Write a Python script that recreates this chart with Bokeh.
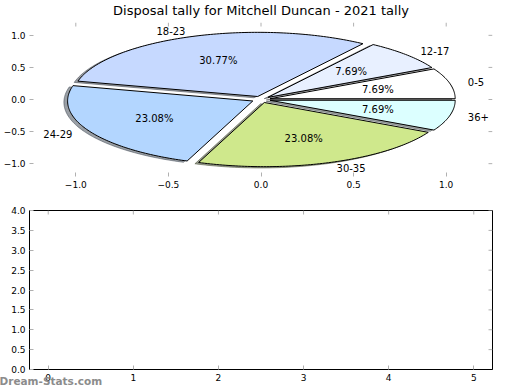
import math
import numpy as np
from bokeh.plotting import figure
from bokeh.layouts import column
from bokeh.models import (Range1d, LinearAxis, FixedTicker, CustomJSTickFormatter,
                          Label, ColumnDataSource)
from bokeh.core.properties import value
from bokeh.embed import file_html
from bokeh.resources import INLINE

# ---------------- data ----------------
chart_title = "Disposal tally for Mitchell Duncan - 2021 tally"
slice_labels = ["0-5", "12-17", "18-23", "24-29", "30-35", "36+"]
slice_counts = [1, 1, 4, 3, 3, 1]
slice_colors = ["#ffffff", "#e8f0ff", "#c6d9ff", "#b3d6ff", "#cfe88c", "#dcffff"]
slice_explode = [0.05, 0.05, 0.05, 0.05, 0.05, 0.05]
pie_x_ticks = [-1.0, -0.5, 0.0, 0.5, 1.0]
pie_y_ticks = [-1.0, -0.5, 0.0, 0.5, 1.0]
lower_x_ticks = [0, 1, 2, 3, 4, 5]
lower_y_ticks = [0.0, 0.5, 1.0, 1.5, 2.0, 2.5, 3.0, 3.5, 4.0]
watermark = "Dream-Stats.com"

FONT = "DejaVu Sans"
TICK_COLOR = "#b0b0b0"
TICK_LEN = 4

fmt1 = CustomJSTickFormatter(code="return tick.toFixed(1).replace('-', '\\u2212');")
fmt0 = CustomJSTickFormatter(code="return tick.toFixed(0).replace('-', '\\u2212');")


def style_axis(ax, ticks, fmt, line):
    ax.ticker = FixedTicker(ticks=ticks)
    ax.formatter = fmt
    ax.major_tick_in = TICK_LEN
    ax.major_tick_out = 0
    ax.minor_tick_line_color = None
    ax.major_tick_line_color = TICK_COLOR
    ax.major_tick_line_width = 1
    ax.axis_line_color = "black" if line else None
    ax.axis_line_width = 1
    ax.major_label_text_font = FONT
    ax.major_label_text_color = "black"
    ax.major_label_text_font_size = "9px"
    ax.major_label_standoff = 4


def mirror_ticks(p, xr, yr, xticks, yticks):
    # tick marks on the top and right edges, pointing inwards
    p.ray(x=list(xticks), y=[yr.end] * len(xticks), length=TICK_LEN, length_units="screen",
          angle=-math.pi / 2, line_color=TICK_COLOR, line_width=1)
    p.ray(x=[xr.end] * len(yticks), y=list(yticks), length=TICK_LEN, length_units="screen",
          angle=math.pi, line_color=TICK_COLOR, line_width=1)


# ---------------- pie figure ----------------
xr1, yr1 = Range1d(-1.25, 1.25), Range1d(-1.2, 1.2)
p1 = figure(width=520, height=195, output_backend="svg", toolbar_location=None,
            x_range=xr1, y_range=yr1,
            x_axis_location=None, y_axis_location=None,
            min_border_left=27, min_border_right=28, min_border_top=22, min_border_bottom=19)
p1.outline_line_color = None
p1.grid.visible = False
p1.background_fill_color = "white"
p1.border_fill_color = "white"
p1.title.text = chart_title
p1.title.text_font = FONT
p1.title.text_font_size = "13px"
p1.title.text_font_style = "normal"
p1.title.text_color = "black"
p1.title.align = "center"
p1.title.vertical_align = "top"
p1.title.standoff = 5

for loc, ticks in (("below", pie_x_ticks), ("left", pie_y_ticks)):
    ax = LinearAxis()
    style_axis(ax, ticks, fmt1, False)
    p1.add_layout(ax, loc)
mirror_ticks(p1, xr1, yr1, pie_x_ticks, pie_y_ticks)

total = float(sum(slice_counts))
theta = 0.0
wx, wy, sx, sy, scol = [], [], [], [], []
lx, ly, lal, pxs, pys, ptx = [], [], [], [], [], []
for lab, cnt, col, ex in zip(slice_labels, slice_counts, slice_colors, slice_explode):
    frac = cnt / total
    t1, t2 = theta, theta + 360.0 * frac
    theta = t2
    mid = math.radians((t1 + t2) / 2.0)
    cx, cy = ex * math.cos(mid), ex * math.sin(mid)
    angs = np.radians(np.linspace(t1, t2, int(abs(t2 - t1)) + 3))
    xs = [cx] + list(cx + np.cos(angs)) + [cx]
    ys = [cy] + list(cy + np.sin(angs)) + [cy]
    wx.append(xs)
    wy.append(ys)
    sx.append([v - 0.02 for v in xs])
    sy.append([v - 0.02 for v in ys])
    r, g, b = (int(col[i:i + 2], 16) for i in (1, 3, 5))
    scol.append("#%02x%02x%02x" % (int(0.3 * r), int(0.3 * g), int(0.3 * b)))
    xt = cx + 1.1 * math.cos(mid)
    yt = cy + 1.1 * math.sin(mid)
    lx.append(xt)
    ly.append(yt)
    lal.append("left" if xt > 0 else "right")
    pxs.append(cx + 0.6 * math.cos(mid))
    pys.append(cy + 0.6 * math.sin(mid))
    ptx.append("%1.2f%%" % (100.0 * frac))

shadow_src = ColumnDataSource(dict(xs=sx, ys=sy, c=scol))
wedge_src = ColumnDataSource(dict(xs=wx, ys=wy, c=list(slice_colors)))
p1.patches("xs", "ys", source=shadow_src, fill_color="c", fill_alpha=0.5,
           line_color="c", line_alpha=0.5, line_width=1)
p1.patches("xs", "ys", source=wedge_src, fill_color="c", line_color="black", line_width=1)

lab_src = ColumnDataSource(dict(x=lx, y=ly, t=list(slice_labels), a=lal))
p1.text("x", "y", text="t", source=lab_src, text_align="a", text_baseline="middle",
        text_font=value(FONT), text_font_size="10px", text_color="black")
pct_src = ColumnDataSource(dict(x=pxs, y=pys, t=ptx))
p1.text("x", "y", text="t", source=pct_src, text_align="center", text_baseline="middle",
        text_font=value(FONT), text_font_size="10px", text_color="black")

# ---------------- empty lower figure ----------------
xr2, yr2 = Range1d(-0.22, 5.22), Range1d(0, 4)
p2 = figure(width=520, height=195, output_backend="svg", toolbar_location=None,
            x_range=xr2, y_range=yr2,
            x_axis_location=None, y_axis_location=None,
            min_border_left=26, min_border_right=27, min_border_top=15, min_border_bottom=21)
p2.outline_line_color = "black"
p2.outline_line_width = 1
p2.grid.visible = False
p2.background_fill_color = "white"
p2.border_fill_color = "white"
for loc, ticks, fmt in (("below", lower_x_ticks, fmt0), ("left", lower_y_ticks, fmt1)):
    ax = LinearAxis()
    style_axis(ax, ticks, fmt, True)
    p2.add_layout(ax, loc)
mirror_ticks(p2, xr2, yr2, lower_x_ticks, lower_y_ticks)

# watermark in the lower-left corner; hosted in the (otherwise empty) top side
# panel so that it is not clipped to the frame, and moved down below the frame
wm = Label(x=-30, y=-170, x_units="screen", y_units="screen", text=watermark,
           text_font=FONT, text_font_size="10.5px", text_font_style="bold",
           text_color="#8c8c8c", text_align="left", text_baseline="middle")
p2.add_layout(wm, "above")

layout = column(p1, p2, spacing=0)
open("out.html", "w").write(file_html(layout, INLINE))
